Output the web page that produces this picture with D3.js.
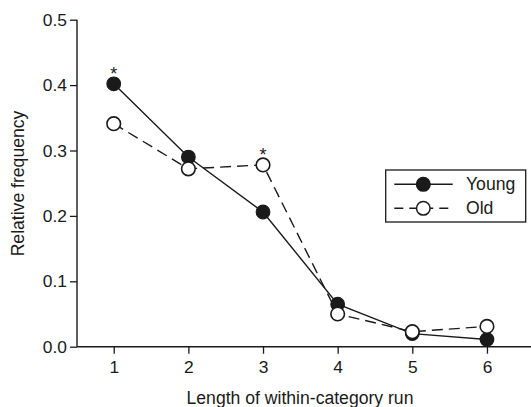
<!DOCTYPE html>
<html><head><meta charset="utf-8">
<script src="https://cdn.jsdelivr.net/npm/d3@7"></script>
<style>body{margin:0;background:#fff}svg{display:block}text{font-family:"Liberation Sans",Arial,sans-serif;fill:#1a1a1a}</style>
</head><body>
<svg id="c" width="531" height="407"></svg>
<script>
const runLengths = [1, 2, 3, 4, 5, 6];
const young = [0.402, 0.290, 0.206, 0.065, 0.020, 0.011];
const old = [0.341, 0.272, 0.278, 0.050, 0.023, 0.031];
const yTicks = [0.0, 0.1, 0.2, 0.3, 0.4, 0.5];
const significant = [1, 3];

const svg = d3.select("#c");
const x = d3.scaleLinear().domain([0.508, 6.59]).range([77, 531]);
const y = d3.scaleLinear().domain([0, 0.5]).range([346.7, 19.7]);
const ink = "#1a1a1a";
const fs = 17.6;

const xAxis = svg.append("g").attr("transform", "translate(0,346.7)")
  .call(d3.axisBottom(x).tickValues(runLengths).tickSize(7).tickPadding(7).tickFormat(d3.format("d")));
const yAxis = svg.append("g").attr("transform", "translate(77,0)")
  .call(d3.axisLeft(y).tickValues(yTicks).tickSize(7).tickPadding(3).tickFormat(d3.format(".1f")));
[xAxis, yAxis].forEach(g => {
  g.select(".domain").attr("stroke", ink).attr("stroke-width", 1.4);
  g.selectAll(".tick line").attr("stroke", ink).attr("stroke-width", 1.3);
  g.selectAll(".tick text").attr("font-size", 17.4).attr("fill", ink).style("font-family", '"Liberation Sans",Arial,sans-serif');
});
xAxis.select(".domain").attr("d", "M77,0H531");
yAxis.select(".domain").attr("d", "M0,19.7V346.7");

svg.append("text").attr("x", 300).attr("y", 403.5).attr("text-anchor", "middle").attr("font-size", fs)
  .text("Length of within-category run");
svg.append("text").attr("transform", "translate(23.5,183.5) rotate(-90)").attr("text-anchor", "middle").attr("font-size", fs)
  .text("Relative frequency");

const line = d3.line().x((d, i) => x(runLengths[i])).y(d => y(d));
svg.append("path").datum(old).attr("d", line).attr("fill", "none").attr("stroke", ink)
  .attr("stroke-width", 1.4).attr("stroke-dasharray", "11,6");
svg.append("path").datum(young).attr("d", line).attr("fill", "none").attr("stroke", ink).attr("stroke-width", 1.4);

svg.selectAll(".ym").data(young).enter().append("circle")
  .attr("cx", (d, i) => x(runLengths[i])).attr("cy", d => y(d)).attr("r", 6.8)
  .attr("fill", ink).attr("stroke", ink).attr("stroke-width", 1.2);
svg.selectAll(".om").data(old).enter().append("circle")
  .attr("cx", (d, i) => x(runLengths[i])).attr("cy", d => y(d)).attr("r", 6.8)
  .attr("fill", "#fff").attr("stroke", ink).attr("stroke-width", 1.6);

const starVal = r => Math.max(young[r - 1], old[r - 1]);
svg.selectAll(".star").data(significant).enter().append("text")
  .attr("x", d => x(d)).attr("y", d => y(starVal(d)) - 4).attr("text-anchor", "middle")
  .attr("font-size", 18).text("*");

// legend
const lg = svg.append("g");
lg.append("rect").attr("x", 385.7).attr("y", 170).attr("width", 140).attr("height", 52)
  .attr("fill", "#fff").attr("stroke", ink).attr("stroke-width", 1.3);
const items = [{name: "Young", fill: ink, dash: null, cy: 184.3}, {name: "Old", fill: "#fff", dash: "9,6", cy: 208.3}];
items.forEach(it => {
  lg.append("line").attr("x1", 394.3).attr("x2", 452.7).attr("y1", it.cy).attr("y2", it.cy)
    .attr("stroke", ink).attr("stroke-width", 1.4).attr("stroke-dasharray", it.dash);
  lg.append("circle").attr("cx", 423.3).attr("cy", it.cy).attr("r", 6.8).attr("fill", it.fill)
    .attr("stroke", ink).attr("stroke-width", 1.5);
  lg.append("text").attr("x", 466).attr("y", it.cy + 6).attr("font-size", fs).text(it.name);
});
</script>
</body></html>
